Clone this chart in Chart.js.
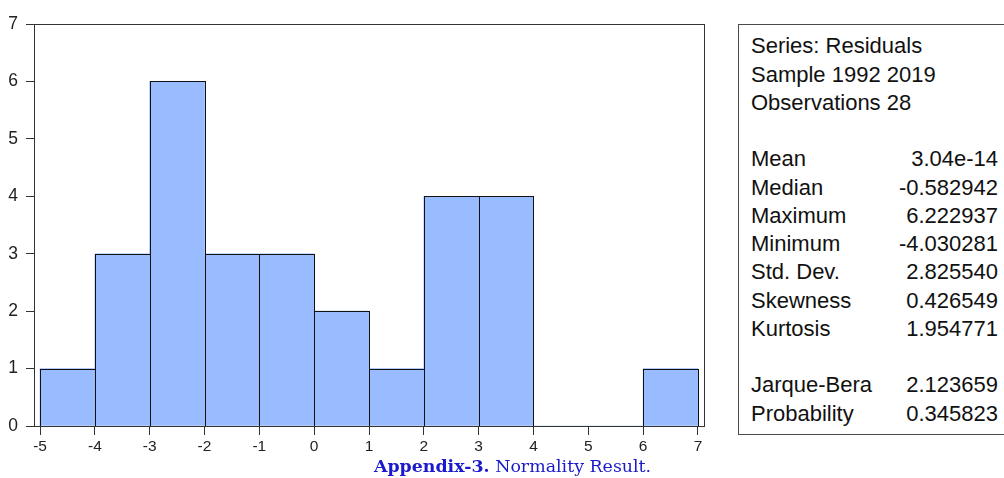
<!DOCTYPE html>
<html>
<head>
<meta charset="utf-8">
<script src="https://cdn.jsdelivr.net/npm/chart.js@4.4.1/dist/chart.umd.min.js"></script>
<style>
  html, body { margin: 0; padding: 0; background: #fff; width: 1004px; height: 478px; overflow: hidden; position: relative; }
  #wrap { position: absolute; left: 0; top: 0; width: 720px; height: 478px; }
  #statsBox { position: absolute; left: 738px; top: 24px; width: 290px; height: 411px; border: 1px solid #4a4a4a; box-sizing: border-box; }
  .st { position: absolute; font-family: "Liberation Sans", Arial, sans-serif; font-size: 22px; color: #111; line-height: 28px; height: 28px; white-space: nowrap; }
  .lab { left: 751px; }
  .val { left: 800px; width: 198px; text-align: right; }
  #caption { position: absolute; left: 0; width: 1025px; top: 455px; text-align: center; font-family: "DejaVu Serif", "Liberation Serif", serif; font-size: 17.4px; color: #1a1acc; line-height: 22px; white-space: nowrap; }
  #caption b { font-weight: bold; }
</style>
</head>
<body>
<div id="wrap"><canvas id="c" width="720" height="478"></canvas></div>
<div id="statsBox"></div>
<div id="stats"></div>
<div id="caption"><b>Appendix-3.</b> Normality Result.</div>
<script>
// ---- data ----
const binStarts = [-5, -4, -3, -2, -1, 0, 1, 2, 3, 4, 5, 6];
const counts    = [1, 3, 6, 3, 3, 2, 1, 4, 4, 0, 0, 1];
const xTickLabels = [-5, -4, -3, -2, -1, 0, 1, 2, 3, 4, 5, 6, 7];
const yTickLabels = [0, 1, 2, 3, 4, 5, 6, 7];
const headerLines = ["Series: Residuals", "Sample 1992 2019", "Observations 28"];
const statNames  = ["Mean", "Median", "Maximum", "Minimum", "Std. Dev.", "Skewness", "Kurtosis"];
const statValues = ["3.04e-14", "-0.582942", "6.222937", "-4.030281", "2.825540", "0.426549", "1.954771"];
const testNames  = ["Jarque-Bera", "Probability"];
const testValues = ["2.123659", "0.345823"];

// ---- stats panel ----
(function () {
  const host = document.getElementById('stats');
  const step = 28.25;
  function add(cls, text, center) {
    const d = document.createElement('div');
    d.className = 'st ' + cls;
    d.textContent = text;
    d.style.top = (center - 13.7) + 'px';
    host.appendChild(d);
  }
  let y = 46;
  headerLines.forEach((t, i) => add('lab', t, y + i * step));
  y = 159;
  statNames.forEach((t, i) => { add('lab', t, y + i * step); add('val', statValues[i], y + i * step); });
  y = 385;
  testNames.forEach((t, i) => { add('lab', t, y + i * step); add('val', testValues[i], y + i * step); });
})();

// ---- chart ----
const points = binStarts.map((s, i) => ({ x: s + 0.5, y: counts[i] }));
const pad = 0.11;

const outlinePlugin = {
  id: 'outlines',
  afterDatasetsDraw(chart) {
    const ctx = chart.ctx;
    ctx.save();
    ctx.strokeStyle = '#111';
    ctx.lineWidth = 1;
    const meta = chart.getDatasetMeta(0);
    meta.data.forEach((bar) => {
      const p = bar.getProps(['x', 'y', 'base', 'width'], true);
      if (Math.abs(p.base - p.y) < 0.5) return;
      const l = Math.round(p.x - p.width / 2) + 0.5;
      const r = Math.round(p.x + p.width / 2) + 0.5;
      const t = Math.round(p.y) + 0.5;
      const b = Math.round(p.base) + 0.5;
      ctx.strokeRect(l, t, r - l, b - t);
    });
    const a = chart.chartArea;
    ctx.strokeStyle = '#333';
    ctx.strokeRect(Math.round(a.left) + 0.5, Math.round(a.top) + 0.5, Math.round(a.right - a.left), Math.round(a.bottom - a.top));
    ctx.restore();
  }
};

new Chart(document.getElementById('c'), {
  type: 'bar',
  data: {
    datasets: [{
      data: points,
      backgroundColor: '#99bbff',
      borderWidth: 0,
      barPercentage: 1,
      categoryPercentage: 1
    }]
  },
  options: {
    responsive: false,
    devicePixelRatio: 1,
    animation: false,
    layout: { padding: { top: 24, right: 16, left: 0, bottom: 0 } },
    plugins: { legend: { display: false }, tooltip: { enabled: false } },
    scales: {
      x: {
        type: 'linear',
        offset: false,
        min: xTickLabels[0] - pad,
        max: xTickLabels[xTickLabels.length - 1] + pad,
        afterBuildTicks: (s) => { s.ticks = xTickLabels.map(v => ({ value: v })); },
        afterFit: (s) => { s.height = 52; },
        grid: { offset: false, drawOnChartArea: false, drawTicks: true, tickLength: 9, color: '#333' },
        border: { display: false },
        ticks: { color: '#222', font: { family: 'Liberation Sans', size: 15.5 }, padding: 2, maxRotation: 0, autoSkip: false,
                 callback: (v) => String(v) }
      },
      y: {
        min: yTickLabels[0],
        max: yTickLabels[yTickLabels.length - 1],
        afterBuildTicks: (s) => { s.ticks = yTickLabels.map(v => ({ value: v })); },
        afterFit: (s) => { s.width = 34; },
        grid: { offset: false, drawOnChartArea: false, drawTicks: true, tickLength: 8, color: '#333' },
        border: { display: false },
        ticks: { color: '#222', font: { family: 'Liberation Sans', size: 17.5 }, padding: 8, autoSkip: false,
                 callback: (v) => String(v) }
      }
    }
  },
  plugins: [outlinePlugin]
});
</script>
</body>
</html>
